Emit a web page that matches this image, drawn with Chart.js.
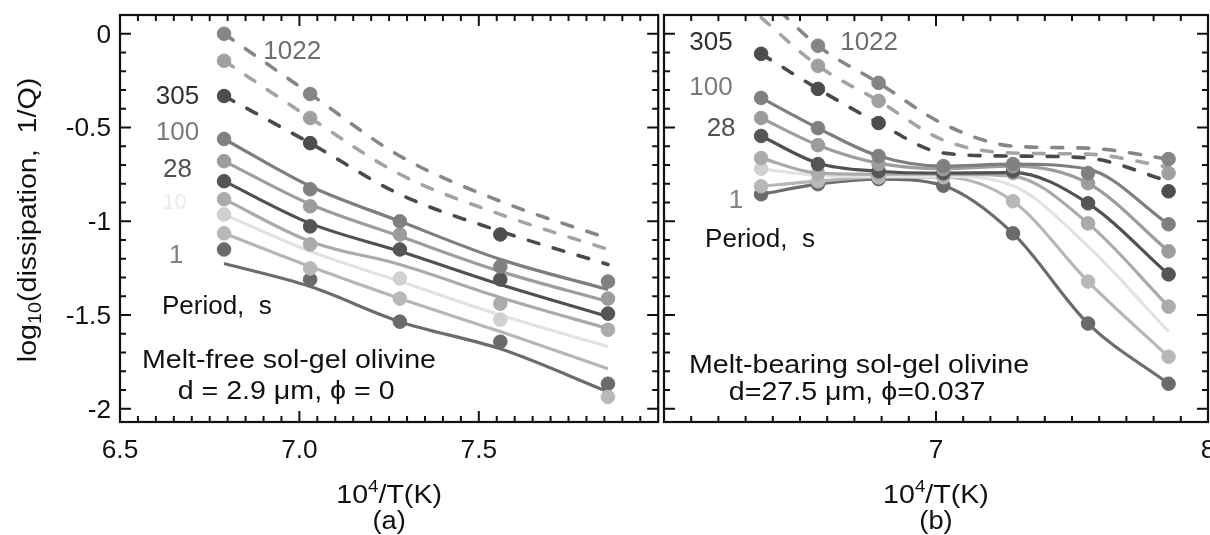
<!DOCTYPE html>
<html><head><meta charset="utf-8">
<script src="https://cdn.jsdelivr.net/npm/chart.js@4"></script>
<style>
html,body{margin:0;padding:0;background:#fff;overflow:hidden;width:1210px;height:535px;}
#ca{position:absolute;left:0;top:0;}
#cb{position:absolute;left:600px;top:0;}
</style></head><body>
<canvas id="ca" width="666" height="535"></canvas>
<canvas id="cb" width="620" height="535"></canvas>
<script>
// ---------- data ----------
const colsA = [6.79, 7.03, 7.28, 7.56, 7.86];
const colsB = [6.357, 6.566, 6.789, 7.027, 7.283, 7.559, 7.855];
const series = ['1022', '600', '305', '100', '56', '28', '16', '10', '2', '1'];

// panel (a): melt-free
const a1022Fit = [0.00, -0.321, -0.652, -0.893, -1.091];
const a1022Obs = [0.00, -0.321, null, null, null];
const a600Fit = [-0.144, -0.449, -0.749, -0.963, -1.150];
const a600Obs = [-0.144, -0.449, null, null, null];
const a305Fit = [-0.332, -0.583, -0.856, -1.053, -1.230];
const a305Obs = [-0.332, -0.583, null, -1.070, null];
const a100Fit = [-0.561, -0.813, -1.000, -1.203, -1.364];
const a100Obs = [-0.561, -0.829, -1.000, -1.241, -1.321];
const a56Fit = [-0.679, -0.909, -1.080, -1.267, -1.428];
const a56Obs = [-0.679, -0.920, -1.070, null, -1.412];
const a28Fit = [-0.786, -1.011, -1.160, -1.337, -1.508];
const a28Obs = [-0.786, -1.027, -1.150, -1.310, -1.492];
const a16Fit = [-0.882, -1.107, -1.230, -1.406, -1.572];
const a16Obs = [-0.882, -1.123, null, -1.439, -1.578];
const a10Fit = [-0.963, -1.160, -1.320, -1.500, -1.668];
const a10Obs = [-0.963, null, -1.305, -1.524, null];
const a2Fit = [-1.064, -1.241, -1.412, -1.588, -1.786];
const a2Obs = [-1.064, -1.251, -1.412, null, -1.936];
const a1Fit = [-1.225, -1.348, -1.535, -1.680, -1.909];
const a1Obs = [-1.150, -1.310, -1.535, -1.642, -1.866];

// panel (b): melt-bearing
const b1022Fit = [0.219, -0.064, -0.262, -0.481, -0.599, -0.610, -0.668];
const b1022Obs = [null, -0.064, -0.262, null, null, null, -0.668];
const b600Fit = [0.086, -0.171, -0.358, -0.567, -0.636, -0.642, -0.711];
const b600Obs = [null, -0.171, -0.358, null, null, null, -0.743];
const b305Fit = [-0.107, -0.294, -0.476, -0.636, -0.652, -0.663, -0.786];
const b305Obs = [-0.107, -0.294, -0.476, null, null, null, -0.840];
const b100Fit = [-0.342, -0.503, -0.652, -0.706, -0.695, -0.722, -1.016];
const b100Obs = [-0.342, -0.503, -0.652, -0.706, -0.695, -0.743, -1.016];
const b56Fit = [-0.449, -0.594, -0.690, -0.720, -0.706, -0.797, -1.160];
const b56Obs = [-0.449, -0.594, -0.695, -0.722, -0.706, -0.797, -1.160];
const b28Fit = [-0.545, -0.690, -0.733, -0.743, -0.740, -0.904, -1.283];
const b28Obs = [-0.545, -0.695, -0.733, -0.743, -0.733, -0.904, -1.283];
const b16Fit = [-0.663, -0.743, -0.749, -0.749, -0.760, -1.011, -1.455];
const b16Obs = [-0.663, -0.743, -0.749, -0.754, -0.743, -1.011, -1.455];
const b10Fit = [-0.720, -0.755, -0.760, -0.760, -0.810, -1.134, -1.588];
const b10Obs = [-0.720, null, null, null, null, null, null];
const b2Fit = [-0.813, -0.786, -0.765, -0.765, -0.893, -1.321, -1.722];
const b2Obs = [-0.813, -0.786, -0.765, -0.765, -0.893, -1.321, -1.722];
const b1Fit = [-0.856, -0.802, -0.775, -0.810, -1.064, -1.545, -1.866];
const b1Obs = [-0.856, -0.802, -0.775, -0.810, -1.064, -1.545, -1.866];

// tick labels
const yTickVals = [0, -0.5, -1, -1.5, -2];
const yTickLabels = ['0', '-0.5', '-1', '-1.5', '-2'];
const xTickValsA = [6.5, 7.0, 7.5];
const xTickLabelsA = ['6.5', '7.0', '7.5'];
const xTickValsB = [7, 8];
const xTickLabelsB = ['7', '8'];

// ---------- styles ----------
const seriesStyle = {
  '1022': {line: '#868686', dot: '#858585', dash: true},
  '600':  {line: '#a4a4a4', dot: '#a0a0a0', dash: true},
  '305':  {line: '#4a4a4a', dot: '#4d4d4d', dash: true},
  '100':  {line: '#7e7e7e', dot: '#808080', dash: false},
  '56':   {line: '#9d9d9d', dot: '#9c9c9c', dash: false},
  '28':   {line: '#505050', dot: '#555555', dash: false},
  '16':   {line: '#aaaaaa', dot: '#ababab', dash: false},
  '10':   {line: '#e2e2e2', dot: '#d0d0d0', dash: false},
  '2':    {line: '#b6b6b6', dot: '#b8b8b8', dash: false},
  '1':    {line: '#6c6c6c', dot: '#6a6a6a', dash: false}
};
const FONT = '"Liberation Sans", Arial, Helvetica, sans-serif';

function buildDatasets(cols, fits, obs) {
  const ds = [];
  series.forEach((name, i) => {
    const st = seriesStyle[name];
    ds.push({
      label: name + ' s (fit)',
      data: cols.map((x, j) => ({x: x, y: fits[i][j]})),
      borderColor: st.line, borderWidth: st.dash ? 3.6 : 3.2,
      borderDash: st.dash ? [11, 15] : [], borderCapStyle: st.dash ? 'round' : 'butt',
      pointRadius: 0, cubicInterpolationMode: 'monotone', fill: false, order: 2
    });
    ds.push({
      label: name + ' s (data)',
      data: cols.map((x, j) => ({x: x, y: obs[i][j]})),
      showLine: false, pointRadius: 6.8, pointHoverRadius: 6.8,
      pointBackgroundColor: st.dot, pointBorderColor: st.dot, pointBorderWidth: 1, order: 1
    });
  });
  return ds;
}

function txt(ctx, s, x, y, size, color, align, sx) {
  ctx.save();
  ctx.font = size + 'px ' + FONT;
  ctx.fillStyle = color; ctx.textBaseline = 'middle'; ctx.textAlign = align || 'center';
  ctx.translate(x, y); ctx.scale(sx || 1, 1);
  ctx.fillText(s, 0, 0);
  ctx.restore();
}

function frameTicks(chart, xStep, xMaj, yStep, yMaj) {
  const ctx = chart.ctx, a = chart.chartArea, xs = chart.scales.x, ys = chart.scales.y;
  const isMaj = (v, arr) => arr.some(m => Math.abs(m - v) < 1e-6);
  ctx.save();
  ctx.strokeStyle = '#111'; ctx.lineWidth = 2; ctx.beginPath();
  for (let k = Math.ceil(xs.min / xStep - 1e-6); k <= Math.floor(xs.max / xStep + 1e-6); k++) {
    const v = k * xStep, px = xs.getPixelForValue(v);
    if (px < a.left + 1 || px > a.right - 1) continue;
    const L = isMaj(v, xMaj) ? 11 : 6;
    ctx.moveTo(px, a.bottom); ctx.lineTo(px, a.bottom - L);
    ctx.moveTo(px, a.top); ctx.lineTo(px, a.top + L);
  }
  for (let k = Math.ceil(ys.min / yStep - 1e-6); k <= Math.floor(ys.max / yStep + 1e-6); k++) {
    const v = k * yStep, py = ys.getPixelForValue(v);
    if (py < a.top + 1 || py > a.bottom - 1) continue;
    const L = isMaj(v, yMaj) ? 11 : 6;
    ctx.moveTo(a.left, py); ctx.lineTo(a.left + L, py);
    ctx.moveTo(a.right, py); ctx.lineTo(a.right - L, py);
  }
  ctx.stroke();
  ctx.lineWidth = 2.2;
  ctx.strokeRect(a.left, a.top, a.right - a.left, a.bottom - a.top);
  ctx.restore();
}

function label(chart, s, xv, yv, size, color, sx) {
  txt(chart.ctx, s, chart.scales.x.getPixelForValue(xv), chart.scales.y.getPixelForValue(yv), size, color, 'center', sx);
}

function xTitle(ctx, cx, cy) {
  ctx.save();
  ctx.fillStyle = '#111'; ctx.textBaseline = 'alphabetic';
  const sx = 1.1;
  const big = '26px ' + FONT, small = '17px ' + FONT;
  ctx.font = big; const w1 = ctx.measureText('10').width, w3 = ctx.measureText('/T(K)').width;
  ctx.font = small; const w2 = ctx.measureText('4').width;
  ctx.translate(cx, cy + 9); ctx.scale(sx, 1);
  let x = -(w1 + w2 + w3) / 2;
  ctx.font = big; ctx.fillText('10', x, 0); x += w1;
  ctx.font = small; ctx.fillText('4', x, -11); x += w2;
  ctx.font = big; ctx.fillText('/T(K)', x, 0);
  ctx.restore();
}

function yTitle(ctx, cx, cy) {
  ctx.save();
  ctx.translate(cx, cy); ctx.rotate(-Math.PI / 2); ctx.scale(1.1, 1);
  ctx.fillStyle = '#111'; ctx.textBaseline = 'alphabetic';
  const big = '26px ' + FONT, small = '18px ' + FONT;
  const p1 = 'log', p2 = '10', p3 = '(dissipation,  1/Q)';
  ctx.font = big; const w1 = ctx.measureText(p1).width, w3 = ctx.measureText(p3).width;
  ctx.font = small; const w2 = ctx.measureText(p2).width;
  let x = -(w1 + w2 + w3) / 2; const base = 9;
  ctx.font = big; ctx.fillText(p1, x, base); x += w1;
  ctx.font = small; ctx.fillText(p2, x, base + 5); x += w2;
  ctx.font = big; ctx.fillText(p3, x, base);
  ctx.restore();
}

const plugA = {
  id: 'decorA',
  afterDraw(chart) {
    const ctx = chart.ctx, xs = chart.scales.x, ys = chart.scales.y, a = chart.chartArea;
    frameTicks(chart, 0.05, [6.5, 7.0, 7.5, 8.0], 0.1, yTickVals);
    yTickVals.forEach((v, i) => txt(ctx, yTickLabels[i], a.left - 9, ys.getPixelForValue(v) + 2, 25, '#111', 'right', 1.05));
    xTickValsA.forEach((v, i) => txt(ctx, xTickLabelsA[i], xs.getPixelForValue(v), a.bottom + 29, 25, '#111', 'center', 1.05));
    yTitle(ctx, 27, 220);
    xTitle(ctx, (a.left + a.right) / 2, 494);
    txt(ctx, '(a)', (a.left + a.right) / 2, 522, 26, '#111', 'center', 1.05);
    label(chart, '1022', 6.980, -0.097, 26, '#6e6e6e');
    label(chart, '305', 6.660, -0.337, 26, '#303030');
    label(chart, '100', 6.660, -0.529, 26, '#7a7a7a');
    label(chart, '28', 6.660, -0.726, 26, '#505050');
    label(chart, '10', 6.652, -0.902, 22, '#ececec');
    label(chart, '1', 6.657, -1.185, 26, '#808080');
    label(chart, 'Period,  s', 6.770, -1.457, 26, '#111');
    label(chart, 'Melt-free sol-gel olivine', 6.971, -1.745, 26, '#111', 1.1);
    label(chart, 'd = 2.9 \u03bcm, \u03d5 = 0', 6.963, -1.910, 26, '#111', 1.1);
  }
};

const plugB = {
  id: 'decorB',
  afterDraw(chart) {
    const ctx = chart.ctx, xs = chart.scales.x, a = chart.chartArea;
    frameTicks(chart, 0.1, [6, 7, 8], 0.1, yTickVals);
    xTickValsB.forEach((v, i) => txt(ctx, xTickLabelsB[i], xs.getPixelForValue(v), a.bottom + 29, 25, '#111', 'center', 1.05));
    xTitle(ctx, (a.left + a.right) / 2, 494);
    txt(ctx, '(b)', (a.left + a.right) / 2, 522, 26, '#111', 'center', 1.05);
    label(chart, '305', 6.173, -0.049, 26, '#303030');
    label(chart, '1022', 6.754, -0.049, 26, '#6e6e6e');
    label(chart, '100', 6.173, -0.289, 26, '#7a7a7a');
    label(chart, '28', 6.210, -0.508, 26, '#505050');
    label(chart, '1', 6.265, -0.892, 26, '#808080');
    label(chart, 'Period,  s', 6.353, -1.100, 26, '#111');
    label(chart, 'Melt-bearing sol-gel olivine', 6.717, -1.771, 26, '#111', 1.1);
    label(chart, 'd=27.5 \u03bcm, \u03d5=0.037', 6.710, -1.915, 26, '#111', 1.1);
  }
};

function makeChart(id, cols, fits, obs, xmin, xmax, pad, plug) {
  return new Chart(document.getElementById(id), {
    type: 'line',
    data: {datasets: buildDatasets(cols, fits, obs)},
    options: {
      responsive: false, animation: false, events: [],
      layout: {padding: pad},
      plugins: {legend: {display: false}, tooltip: {enabled: false}},
      scales: {
        x: {type: 'linear', display: false, min: xmin, max: xmax},
        y: {type: 'linear', display: false, min: -2.07, max: 0.1}
      }
    },
    plugins: [plug]
  });
}

makeChart('ca', colsA,
  [a1022Fit, a600Fit, a305Fit, a100Fit, a56Fit, a28Fit, a16Fit, a10Fit, a2Fit, a1Fit],
  [a1022Obs, a600Obs, a305Obs, a100Obs, a56Obs, a28Obs, a16Obs, a10Obs, a2Obs, a1Obs],
  6.5, 8.0, {left: 120, right: 2, top: 15, bottom: 113}, plugA);
makeChart('cb', colsB,
  [b1022Fit, b600Fit, b305Fit, b100Fit, b56Fit, b28Fit, b16Fit, b10Fit, b2Fit, b1Fit],
  [b1022Obs, b600Obs, b305Obs, b100Obs, b56Obs, b28Obs, b16Obs, b10Obs, b2Obs, b1Obs],
  6.0, 8.0, {left: 64, right: 12, top: 15, bottom: 113}, plugB);
</script>
</body></html>
